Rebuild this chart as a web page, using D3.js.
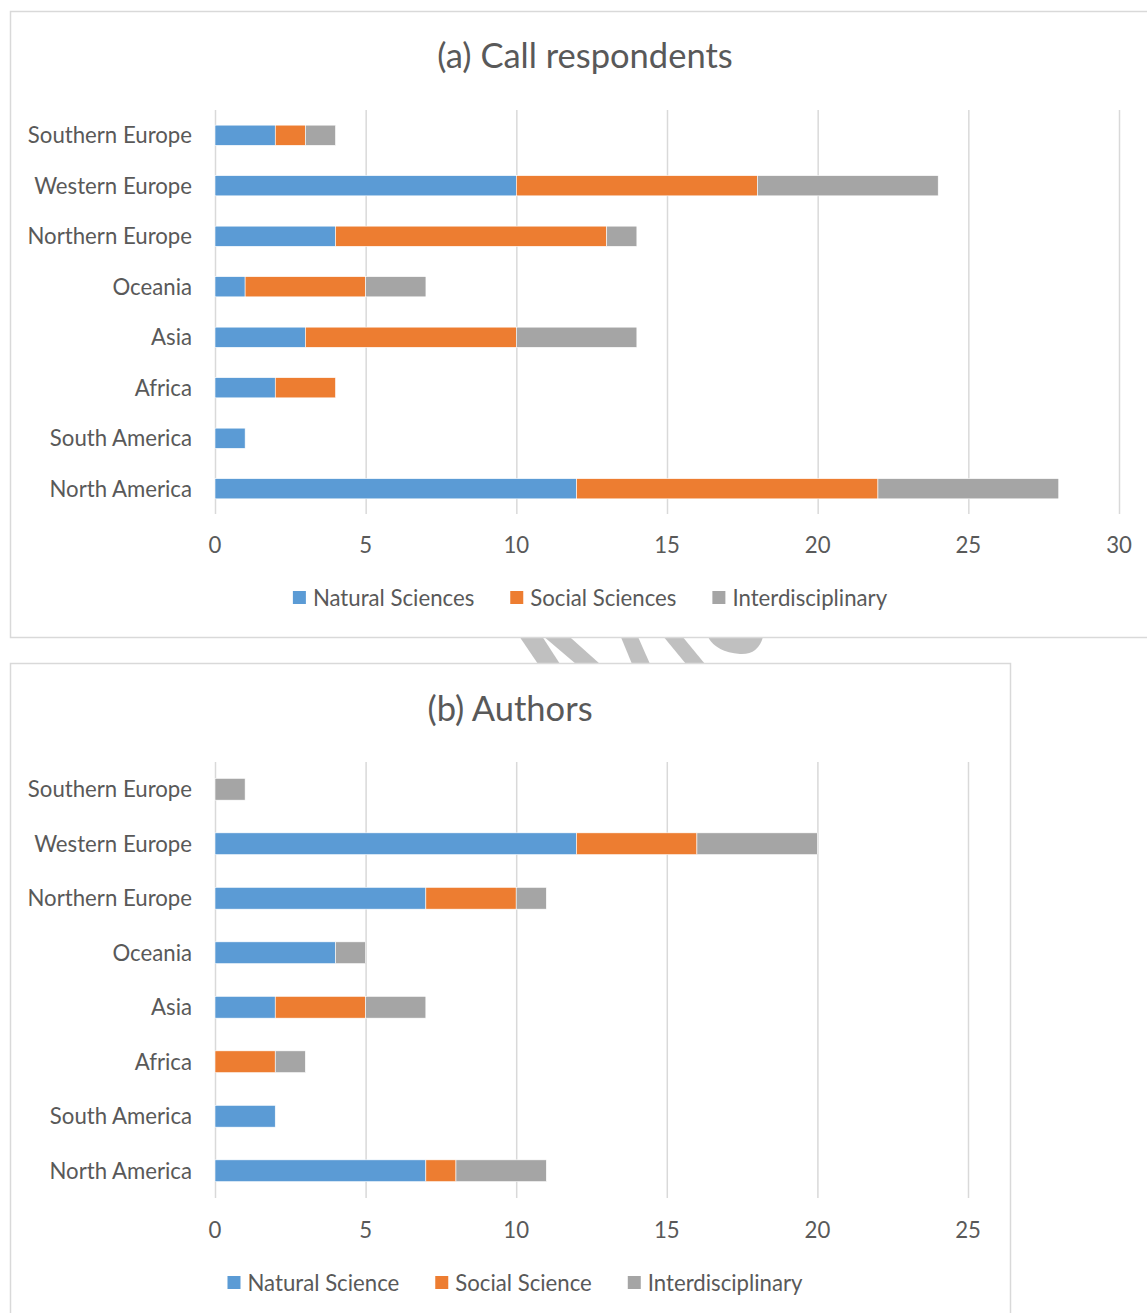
<!DOCTYPE html>
<html>
<head>
<meta charset="utf-8">
<script src="https://cdn.jsdelivr.net/npm/d3@7"></script>
<style>
  body { margin: 0; background: #fff; }
  text { font-family: Lato, "Open Sans", sans-serif; fill: #595959; }
</style>
</head>
<body>
<script>
// regions, listed top to bottom as in the figure
var regions = ['Southern Europe', 'Western Europe', 'Northern Europe', 'Oceania', 'Asia', 'Africa', 'South America', 'North America']

// (a) call respondents
var respNatural = [2, 10, 4, 1, 3, 2, 1, 12]
var respSocial = [1, 8, 9, 4, 7, 2, 0, 10]
var respInter = [1, 6, 1, 2, 4, 0, 0, 6]
var respTicks = [0, 5, 10, 15, 20, 25, 30]
var respSeries = ['Natural Sciences', 'Social Sciences', 'Interdisciplinary']

// (b) authors
var authNatural = [0, 12, 7, 4, 2, 0, 2, 7]
var authSocial = [0, 4, 3, 0, 3, 2, 0, 1]
var authInter = [1, 4, 1, 1, 2, 1, 0, 3]
var authTicks = [0, 5, 10, 15, 20, 25]
var authSeries = ['Natural Science', 'Social Science', 'Interdisciplinary']

var colors = ['#5b9bd5', '#ed7d31', '#a5a5a5']

var W = 1147
var H = 1313

var svg = d3.select('body')
            .append('svg')
            .attr('width', W)
            .attr('height', H)

// faint watermark fragments visible in the gap between the two panels
var wm = svg.append('g').attr('fill', '#c0c0c0')
wm.append('path').attr('d', 'M515,630 L538,630 L560,664 L538,664 Z')
wm.append('path').attr('d', 'M536,630 L562,630 L600,664 L576,664 Z')
wm.append('path').attr('d', 'M618,630 L635,630 L650,664 L632,664 Z')
wm.append('path').attr('d', 'M658,630 L677,630 L705,664 L686,664 Z')
wm.append('path').attr('d', 'M708,630 L763,630 L763,637 Q758,655 740,654 Q716,652 708,637 Z')

function drawPanel (opt) {
  // panel frame
  svg.append('rect')
    .attr('x', opt.box[0] + 0.5)
    .attr('y', opt.box[1] + 0.5)
    .attr('width', opt.box[2])
    .attr('height', opt.box[3])
    .attr('fill', '#fff')
    .attr('stroke', '#d9d9d9')
    .attr('stroke-width', 1.5)

  svg.append('text')
    .attr('x', opt.titleX)
    .attr('y', opt.titleY)
    .attr('text-anchor', 'middle')
    .style('font-size', '34.5px')
    .text(opt.title)

  var x = d3.scaleLinear()
          .domain([0, d3.max(opt.ticks)])
          .range(opt.xRange)

  var y = d3.scaleBand()
          .domain(regions)
          .range(opt.yRange)
          .paddingInner(0.6)
          .paddingOuter(0.3)

  // GRIDLINES
  svg.append('g')
    .selectAll('line')
    .data(opt.ticks)
    .enter()
      .append('line')
      .attr('x1', function (d) { return x(d) + 0.5 })
      .attr('x2', function (d) { return x(d) + 0.5 })
      .attr('y1', opt.yRange[0])
      .attr('y2', opt.yRange[1])
      .attr('stroke', '#d9d9d9')
      .attr('stroke-width', 1.5)

  // STACKED BARS
  var rows = regions.map(function (r, i) {
    return { region: r, s0: opt.values[0][i], s1: opt.values[1][i], s2: opt.values[2][i] }
  })
  var stacked = d3.stack().keys(['s0', 's1', 's2'])(rows)

  svg.append('g')
    .selectAll('g')
    .data(stacked)
    .enter()
      .append('g')
      .attr('fill', function (d, i) { return colors[i] })
      .selectAll('rect')
      .data(function (d) { return d.filter(function (p) { return p[1] > p[0] }) })
      .enter()
        .append('rect')
        .attr('x', function (d) { return x(d[0]) })
        .attr('y', function (d) { return y(d.data.region) })
        .attr('width', function (d) { return x(d[1]) - x(d[0]) })
        .attr('height', y.bandwidth())
        .attr('stroke', '#fff')
        .attr('stroke-width', 0.6)

  // CATEGORY LABELS
  svg.append('g')
    .selectAll('text')
    .data(regions)
    .enter()
      .append('text')
      .attr('x', opt.xRange[0] - 23)
      .attr('y', function (d) { return y(d) + y.bandwidth() / 2 })
      .attr('dy', '0.35em')
      .attr('text-anchor', 'end')
      .style('font-size', '22.2px')
      .text(function (d) { return d })

  // TICK LABELS
  svg.append('g')
    .selectAll('text')
    .data(opt.ticks)
    .enter()
      .append('text')
      .attr('x', function (d) { return x(d) })
      .attr('y', opt.tickY)
      .attr('dy', '0.35em')
      .attr('text-anchor', 'middle')
      .style('font-size', '22.2px')
      .text(function (d) { return d })

  // LEGEND, centred
  var legend = svg.append('g')
  var items = legend.selectAll('g')
    .data(opt.series)
    .enter()
      .append('g')
  items.append('rect')
    .attr('width', 13)
    .attr('height', 13)
    .attr('y', -7)
    .attr('fill', function (d, i) { return colors[i] })
  items.append('text')
    .attr('x', 20)
    .attr('dy', '0.35em')
    .style('font-size', '22.2px')
    .text(function (d) { return d })

  var pos = 0
  items.each(function () {
    var g = d3.select(this)
    g.attr('transform', 'translate(' + pos + ',0)')
    pos += 20 + g.select('text').node().getComputedTextLength() + 36
  })
  pos -= 36
  legend.attr('transform', 'translate(' + (opt.legendX - pos / 2) + ',' + opt.legendY + ')')
}

drawPanel({
  box: [10, 11, 1160, 626],
  title: '(a) Call respondents',
  titleX: 585,
  titleY: 68,
  xRange: [215, 1119],
  yRange: [110, 514],
  ticks: respTicks,
  tickY: 545,
  values: [respNatural, respSocial, respInter],
  series: respSeries,
  legendX: 590,
  legendY: 598
})

drawPanel({
  box: [10, 663, 1000, 700],
  title: '(b) Authors',
  titleX: 510,
  titleY: 721,
  xRange: [215, 968],
  yRange: [762, 1198],
  ticks: authTicks,
  tickY: 1230,
  values: [authNatural, authSocial, authInter],
  series: authSeries,
  legendX: 515,
  legendY: 1283
})
</script>
</body>
</html>
